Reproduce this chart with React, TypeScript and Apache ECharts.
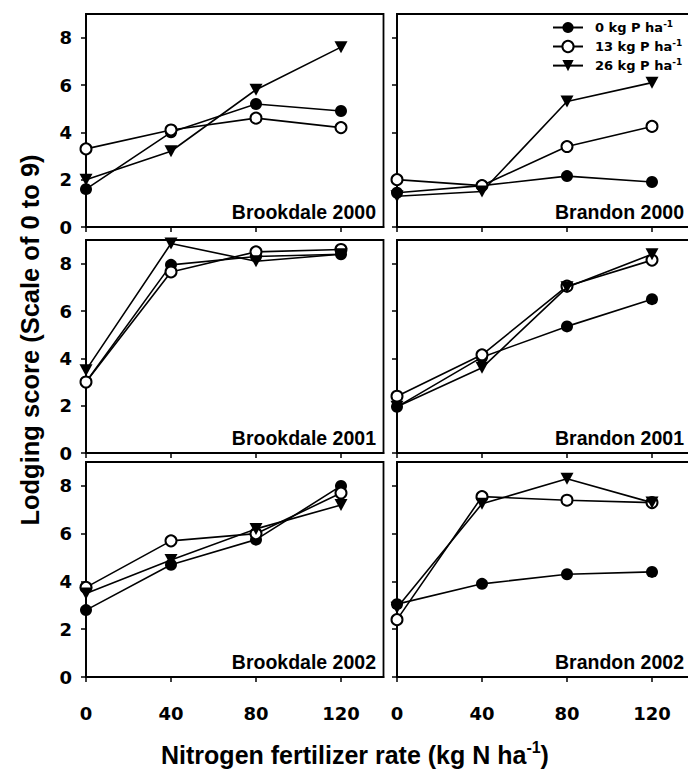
import React, { useEffect, useRef } from "react";
import * as echarts from "echarts";

// ---- data ----
const nitrogenRates = [0, 40, 80, 120];
const xTickValues = [0, 40, 80, 120];
const yTickValues = [0, 2, 4, 6, 8];
const phosphorusLevels = ["0 kg P ha-1", "13 kg P ha-1", "26 kg P ha-1"];
const panelTitles = [
  "Brookdale 2000",
  "Brandon 2000",
  "Brookdale 2001",
  "Brandon 2001",
  "Brookdale 2002",
  "Brandon 2002",
];

const brookdale2000P0 = [1.6, 4.0, 5.2, 4.9];
const brookdale2000P13 = [3.3, 4.1, 4.6, 4.2];
const brookdale2000P26 = [2.0, 3.2, 5.8, 7.6];

const brandon2000P0 = [1.45, 1.75, 2.15, 1.9];
const brandon2000P13 = [2.0, 1.75, 3.4, 4.25];
const brandon2000P26 = [1.3, 1.5, 5.3, 6.1];

const brookdale2001P0 = [3.0, 7.95, 8.3, 8.4];
const brookdale2001P13 = [3.0, 7.65, 8.5, 8.6];
const brookdale2001P26 = [3.5, 8.85, 8.1, 8.4];

const brandon2001P0 = [1.95, 4.05, 5.35, 6.5];
const brandon2001P13 = [2.4, 4.15, 7.05, 8.15];
const brandon2001P26 = [1.95, 3.6, 7.0, 8.4];

const brookdale2002P0 = [2.8, 4.7, 5.75, 8.0];
const brookdale2002P13 = [3.75, 5.7, 6.0, 7.7];
const brookdale2002P26 = [3.5, 4.9, 6.2, 7.2];

const brandon2002P0 = [3.05, 3.9, 4.3, 4.4];
const brandon2002P13 = [2.4, 7.55, 7.4, 7.3];
const brandon2002P26 = [2.9, 7.25, 8.3, 7.3];

const panelSeries = [
  [brookdale2000P0, brookdale2000P13, brookdale2000P26],
  [brandon2000P0, brandon2000P13, brandon2000P26],
  [brookdale2001P0, brookdale2001P13, brookdale2001P26],
  [brandon2001P0, brandon2001P13, brandon2001P26],
  [brookdale2002P0, brookdale2002P13, brookdale2002P26],
  [brandon2002P0, brandon2002P13, brandon2002P26],
];

// ---- styling ----
const FONT = "Liberation Sans";
const TICK_FONT = "DejaVu Sans";
const BLACK = "#000";
const rowTops = [14, 240, 462];
const rowHeights = [213, 213, 215];
const colLefts = [86, 397];
const panelWidth = 297.5;

const markerStyles: any[] = [
  { symbol: "circle", symbolSize: 12, symbolRotate: 0 },
  { symbol: "emptyCircle", symbolSize: 11, symbolRotate: 0 },
  { symbol: "triangle", symbolSize: [13, 12], symbolRotate: 180 },
];

export default function App() {
  const ref = useRef<HTMLDivElement>(null);

  useEffect(() => {
    if (!ref.current) return;
    const chart = echarts.init(ref.current, null, { renderer: "svg" });

    const grids: any[] = [];
    const xAxes: any[] = [];
    const yAxes: any[] = [];
    const series: any[] = [];
    const graphics: any[] = [];

    panelSeries.forEach((sets, i) => {
      const row = Math.floor(i / 2);
      const col = i % 2;
      grids.push({
        left: colLefts[col],
        top: rowTops[row],
        width: panelWidth,
        height: rowHeights[row],
        show: true,
        borderColor: BLACK,
        borderWidth: 1.8,
        backgroundColor: "transparent",
      });
      const axisLine = { show: true, onZero: false, lineStyle: { color: BLACK, width: 1.8 } };
      xAxes.push({
        type: "value",
        gridIndex: i,
        min: 0,
        max: 140,
        axisLine,
        axisTick: {
          show: true,
          inside: false,
          length: 5,
          lineStyle: { color: BLACK, width: 1.5 },
          customValues: xTickValues,
        },
        axisLabel: {
          show: row === 2,
          customValues: xTickValues,
          margin: 27,
          fontFamily: TICK_FONT,
          fontWeight: "bold",
          fontSize: 18,
          color: BLACK,
        },
        splitLine: { show: false },
      });
      yAxes.push({
        type: "value",
        gridIndex: i,
        min: 0,
        max: 9,
        axisLine,
        axisTick: {
          show: true,
          inside: false,
          length: 5,
          lineStyle: { color: BLACK, width: 1.5 },
          customValues: yTickValues,
        },
        axisLabel: {
          show: col === 0,
          customValues: yTickValues,
          margin: 14,
          fontFamily: TICK_FONT,
          fontWeight: "bold",
          fontSize: 18,
          color: BLACK,
        },
        splitLine: { show: false },
      });
      sets.forEach((vals, k) => {
        series.push({
          type: "line",
          name: phosphorusLevels[k],
          xAxisIndex: i,
          yAxisIndex: i,
          data: nitrogenRates.map((x, j) => [x, vals[j]]),
          ...markerStyles[k],
          showSymbol: true,
          clip: false,
          itemStyle: { color: BLACK, borderWidth: k === 1 ? 1.6 : 0 },
          lineStyle: { color: BLACK, width: 1.6 },
          z: 2 + k,
        });
      });
      const labelRight = col === 0 ? 376 : 684;
      graphics.push({
        type: "text",
        x: labelRight,
        y: rowTops[row] + rowHeights[row] - 15,
        style: {
          text: panelTitles[i],
          fontFamily: FONT,
          fontWeight: "bold",
          fontSize: 19.5,
          fill: BLACK,
          align: "right",
          verticalAlign: "middle",
        },
      });
    });

    graphics.push({
      type: "text",
      x: 30,
      y: 340,
      rotation: Math.PI / 2,
      style: {
        text: "Lodging score (Scale of 0 to 9)",
        fontFamily: FONT,
        fontWeight: "bold",
        fontSize: 25.5,
        fill: BLACK,
        align: "center",
        verticalAlign: "middle",
      },
    });
    graphics.push({
      type: "text",
      x: 355,
      y: 755,
      style: {
        text: "{a|Nitrogen fertilizer rate (kg N ha}{s|-1}{a|)}",
        align: "center",
        verticalAlign: "middle",
        rich: {
          a: { fontFamily: FONT, fontWeight: "bold", fontSize: 25, lineHeight: 32, fill: BLACK, color: BLACK },
          s: { fontFamily: FONT, fontWeight: "bold", fontSize: 16, verticalAlign: "top", fill: BLACK, color: BLACK },
        },
      },
    });

    chart.setOption({
      animation: false,
      grid: grids,
      xAxis: xAxes,
      yAxis: yAxes,
      series,
      legend: {
        data: phosphorusLevels,
        orient: "vertical",
        left: 547,
        top: 14,
        itemWidth: 30,
        itemHeight: 14,
        itemGap: 4,
        formatter: (name: string) => `{t|${name.replace("-1", "")}}{s|-1}`,
        textStyle: {
          color: BLACK,
          rich: {
            t: { fontFamily: TICK_FONT, fontWeight: "bold", fontSize: 13, lineHeight: 17, color: BLACK, padding: [0, 0, 0, 7] },
            s: { fontFamily: TICK_FONT, fontWeight: "bold", fontSize: 9, verticalAlign: "top", color: BLACK },
          },
        },
      },
      graphic: graphics,
    });

    return () => chart.dispose();
  }, []);

  return (
    <div style={{ position: "absolute", left: 0, top: 0, width: 688, height: 778, overflow: "hidden", background: "#fff" }}>
      <div ref={ref} style={{ width: 700, height: 778 }} />
    </div>
  );
}
